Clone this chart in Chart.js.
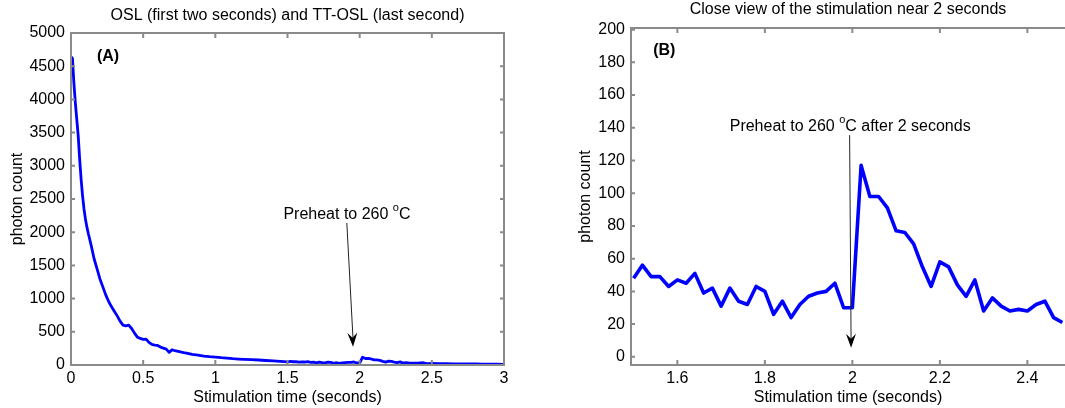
<!DOCTYPE html>
<html>
<head>
<meta charset="utf-8">
<script src="https://cdn.jsdelivr.net/npm/chart.js@4.4.1/dist/chart.umd.min.js"></script>
<style>
  body { margin: 0; background: #fff; }
  #wrapA { position: absolute; left: 0; top: 0; width: 540px; height: 408px; }
  #wrapB { position: absolute; left: 540px; top: 0; width: 525px; height: 408px; }
</style>
</head>
<body>
<div id="wrapA"><canvas id="chartA" width="540" height="408"></canvas></div>
<div id="wrapB"><canvas id="chartB" width="525" height="408"></canvas></div>
<script>
// ---- data ----
// (A) full record, 0 - 3 s
const timeA = [0, 0.01, 0.02, 0.03, 0.04, 0.05, 0.06, 0.07, 0.08, 0.09, 0.10, 0.11, 0.12, 0.14, 0.16, 0.18,
  0.20, 0.22, 0.24, 0.26, 0.28, 0.30, 0.32, 0.34, 0.36, 0.38, 0.40, 0.42, 0.44, 0.46, 0.48, 0.50,
  0.52, 0.54, 0.56, 0.58, 0.60, 0.62, 0.64, 0.66, 0.68, 0.70, 0.72, 0.75, 0.78, 0.80, 0.84, 0.88,
  0.92, 0.96, 1.00, 1.04, 1.08, 1.12, 1.16, 1.20, 1.25, 1.30, 1.35, 1.40, 1.45,
  1.50, 1.52, 1.54, 1.56, 1.58, 1.60, 1.62, 1.64, 1.66, 1.68, 1.70, 1.72, 1.74, 1.76, 1.78, 1.80,
  1.82, 1.84, 1.86, 1.88, 1.90, 1.92, 1.94, 1.96, 1.98, 2.00, 2.02, 2.04, 2.06, 2.08, 2.10, 2.12,
  2.14, 2.16, 2.18, 2.20, 2.22, 2.24, 2.26, 2.28, 2.30, 2.32, 2.34, 2.36, 2.38, 2.40, 2.42, 2.44,
  2.46, 2.48, 2.50, 2.55, 2.60, 2.65, 2.70, 2.75, 2.80, 2.85, 2.90, 2.95, 3.00];
const countA = [4640, 4620, 4250, 3950, 3700, 3450, 3100, 2800, 2550, 2350, 2200, 2080, 1980, 1800, 1600, 1450,
  1300, 1180, 1060, 960, 880, 810, 740, 660, 600, 590, 600, 550, 480, 420, 400, 385,
  390, 340, 310, 300, 295, 270, 255, 240, 190, 230, 215, 200, 185, 180, 160, 150,
  135, 125, 120, 110, 105, 95, 90, 85, 80, 75, 68, 62, 55,
  48, 56, 49, 49, 43, 47, 45, 51, 39, 42, 31, 42, 34, 32, 43, 40,
  26, 34, 24, 32, 37, 39, 40, 45, 30, 30, 117, 98, 98, 91, 77, 76,
  69, 55, 43, 58, 55, 44, 37, 47, 28, 36, 31, 28, 29, 28, 32, 34,
  24, 21, 25, 22, 20, 18, 17, 16, 15, 14, 12, 11, 10];

// (B) close view around 2 s
const timeB = [1.50, 1.52, 1.54, 1.56, 1.58, 1.60, 1.62, 1.64, 1.66, 1.68, 1.70, 1.72, 1.74, 1.76, 1.78, 1.80,
  1.82, 1.84, 1.86, 1.88, 1.90, 1.92, 1.94, 1.96, 1.98, 2.00, 2.02, 2.04, 2.06, 2.08, 2.10, 2.12,
  2.14, 2.16, 2.18, 2.20, 2.22, 2.24, 2.26, 2.28, 2.30, 2.32, 2.34, 2.36, 2.38, 2.40, 2.42, 2.44,
  2.46, 2.48];
const countB = [48, 56, 49, 49, 43, 47, 45, 51, 39, 42, 31, 42, 34, 32, 43, 40,
  26, 34, 24, 32, 37, 39, 40, 45, 30, 30, 117, 98, 98, 91, 77, 76,
  69, 55, 43, 58, 55, 44, 37, 47, 28, 36, 31, 28, 29, 28, 32, 34,
  24, 21];

const xTicksA = [0, 0.5, 1, 1.5, 2, 2.5, 3];
const yTicksA = [0, 500, 1000, 1500, 2000, 2500, 3000, 3500, 4000, 4500, 5000];
const xTicksB = [1.6, 1.8, 2, 2.2, 2.4];
const yTicksB = [0, 20, 40, 60, 80, 100, 120, 140, 160, 180, 200];

const FONT = "'Liberation Sans', Arial, sans-serif";
const AXIS_GRAY = "#8a8a8a";
Chart.defaults.font.family = FONT;
Chart.defaults.font.size = 16;
Chart.defaults.color = "#000";

function toPoints(xs, ys) {
    return xs.map((x, i) => ({ x: x, y: ys[i] }));
}

// box round the plot with inward tick marks, title, panel letter and arrow note
const figurePlugin = {
    id: "figure",
    afterDatasetsDraw(chart, args, opts) {
        const { ctx, chartArea: a, scales: { x, y } } = chart;
        ctx.save();

        // frame
        ctx.strokeStyle = AXIS_GRAY;
        ctx.lineWidth = 2;
        ctx.beginPath();
        if (opts.rightSide) {
            ctx.rect(a.left, a.top, a.right - a.left, a.bottom - a.top);
        } else {
            ctx.moveTo(a.right, a.top);
            ctx.lineTo(a.left, a.top);
            ctx.lineTo(a.left, a.bottom);
            ctx.lineTo(a.right, a.bottom);
        }
        ctx.stroke();

        // tick marks pointing inward
        ctx.beginPath();
        x.ticks.forEach(t => {
            const px = x.getPixelForValue(t.value);
            ctx.moveTo(px, a.bottom); ctx.lineTo(px, a.bottom - 5);
            ctx.moveTo(px, a.top); ctx.lineTo(px, a.top + 5);
        });
        y.ticks.forEach(t => {
            const py = y.getPixelForValue(t.value);
            ctx.moveTo(a.left, py); ctx.lineTo(a.left + 4, py);
            if (opts.rightSide) { ctx.moveTo(a.right, py); ctx.lineTo(a.right - 4, py); }
        });
        ctx.stroke();

        // title
        ctx.fillStyle = "#000";
        ctx.font = "16px " + FONT;
        ctx.textAlign = "center";
        ctx.textBaseline = "middle";
        ctx.fillText(opts.title, (a.left + a.right) / 2, opts.titleY);

        // panel letter
        ctx.font = "bold 16px " + FONT;
        ctx.textAlign = "left";
        ctx.fillText(opts.letter.text, x.getPixelForValue(opts.letter.x), y.getPixelForValue(opts.letter.y));

        // note with superscript degree sign
        const n = opts.note;
        const cx = x.getPixelForValue(n.x), cy = y.getPixelForValue(n.y);
        ctx.font = "16px " + FONT;
        const w1 = ctx.measureText(n.before).width;
        const w3 = ctx.measureText(n.after).width;
        ctx.font = "11px " + FONT;
        const w2 = ctx.measureText("o").width;
        let sx = cx - (w1 + w2 + w3) / 2;
        ctx.font = "16px " + FONT;
        ctx.fillText(n.before, sx, cy);
        ctx.font = "11px " + FONT;
        ctx.fillText("o", sx + w1, cy - 6);
        ctx.font = "16px " + FONT;
        ctx.fillText(n.after, sx + w1 + w2, cy);

        // arrow
        const x0 = x.getPixelForValue(n.fromX), y0 = y.getPixelForValue(n.fromY);
        const x1 = x.getPixelForValue(n.toX), y1 = y.getPixelForValue(n.toY);
        ctx.strokeStyle = "#222";
        ctx.lineWidth = 1;
        ctx.beginPath();
        ctx.moveTo(x0, y0); ctx.lineTo(x1, y1 - 8);
        ctx.stroke();
        const ang = Math.atan2(y1 - y0, x1 - x0);
        const len = 14, half = 5, notch = 9;
        ctx.translate(x1, y1);
        ctx.rotate(ang);
        ctx.fillStyle = "#000";
        ctx.beginPath();
        ctx.moveTo(0, 0);
        ctx.lineTo(-len, -half);
        ctx.lineTo(-notch, 0);
        ctx.lineTo(-len, half);
        ctx.closePath();
        ctx.fill();

        ctx.restore();
    }
};

function makeChart(id, cfg) {
    const ctx = document.getElementById(id).getContext("2d");
    return new Chart(ctx, {
        type: "line",
        data: {
            datasets: [{
                data: toPoints(cfg.xs, cfg.ys),
                borderColor: "#0000ff",
                borderWidth: cfg.lineWidth,
                pointRadius: 0,
                tension: 0,
                borderJoinStyle: "round",
                fill: false
            }]
        },
        options: {
            responsive: false,
            animation: false,
            devicePixelRatio: 1,
            events: [],
            layout: { padding: { left: 0, right: cfg.padRight, top: cfg.padTop, bottom: 0 } },
            plugins: {
                legend: { display: false },
                tooltip: { enabled: false },
                figure: cfg.figure
            },
            scales: {
                x: {
                    type: "linear",
                    min: cfg.xMin,
                    max: cfg.xMax,
                    afterBuildTicks: s => { s.ticks = cfg.xTicks.map(v => ({ value: v })); },
                    afterFit: s => { s.height = 43; },
                    grid: { display: false, drawTicks: false },
                    border: { display: false },
                    ticks: { padding: 4, maxRotation: 0, autoSkip: false, callback: v => String(v) },
                    title: { display: true, text: "Stimulation time (seconds)", padding: { top: 0, bottom: 1 } }
                },
                y: {
                    type: "linear",
                    min: cfg.yMin,
                    max: cfg.yMax,
                    afterBuildTicks: s => { s.ticks = cfg.yTicks.map(v => ({ value: v })); },
                    afterFit: s => { s.width = cfg.yWidth; },
                    grid: { display: false, drawTicks: false },
                    border: { display: false },
                    ticks: { padding: 6, autoSkip: false, callback: v => String(v) },
                    title: { display: true, text: "photon count", padding: { top: cfg.yTitlePad, bottom: 0 } }
                }
            }
        },
        plugins: [figurePlugin]
    });
}

makeChart("chartA", {
    xs: timeA, ys: countA, lineWidth: 2.8,
    xMin: 0, xMax: 3, yMin: 0, yMax: 5000,
    xTicks: xTicksA, yTicks: yTicksA,
    padRight: 36, padTop: 33, yWidth: 71, yTitlePad: 7.5,
    figure: {
        rightSide: true,
        title: "OSL (first two seconds) and TT-OSL (last second)",
        titleY: 15.5,
        letter: { text: "(A)", x: 0.18, y: 4650 },
        note: { before: "Preheat to 260 ", after: "C", x: 1.912, y: 2268,
                fromX: 1.911, fromY: 2139, toX: 1.954, toY: 274 }
    }
});

makeChart("chartB", {
    xs: timeB, ys: countB, lineWidth: 3.6,
    xMin: 1.494, xMax: 2.486, yMin: -5, yMax: 201,
    xTicks: xTicksB, yTicks: yTicksB,
    padRight: 0, padTop: 28, yWidth: 91, yTitlePad: 35.5,
    figure: {
        rightSide: false,
        title: "Close view of the stimulation near 2 seconds",
        titleY: 9.5,
        letter: { text: "(B)", x: 1.5446, y: 187 },
        note: { before: "Preheat to 260 ", after: "C after 2 seconds", x: 1.995, y: 141,
                fromX: 1.9937, fromY: 135.5, toX: 1.997, toY: 5.5 }
    }
});
</script>
</body>
</html>
